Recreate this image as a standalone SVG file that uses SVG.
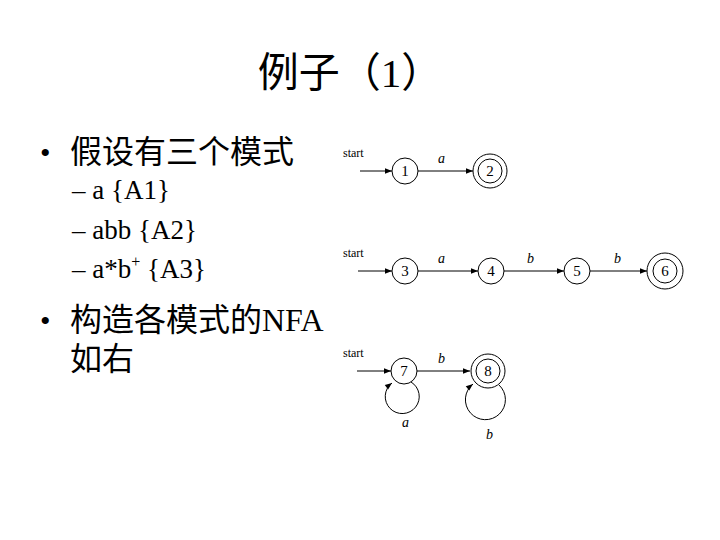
<svg xmlns="http://www.w3.org/2000/svg" width="720" height="540" viewBox="0 0 720 540">
<style>
.t{font-family:"Liberation Serif","Noto Sans CJK SC",serif;fill:#000}
.s{font-family:"Liberation Serif",serif;font-size:12px;fill:#000}
.l{font-family:"Liberation Serif",serif;font-size:14px;font-style:italic;fill:#000}
.n{font-family:"Liberation Serif",serif;font-size:15px;fill:#000;text-anchor:middle}
.c{fill:#fff;stroke:#000;stroke-width:1}
.e{fill:none;stroke:#000;stroke-width:1}
</style>
<defs>
<marker id="ah" viewBox="0 0 10 10" refX="10" refY="5" markerWidth="10" markerHeight="7" markerUnits="userSpaceOnUse" orient="auto"><path d="M0,1 L10,5 L0,9 z" fill="#000"/></marker>
</defs>
<rect width="720" height="540" fill="#fff"/>
<text class="t" x="350" y="87" font-size="41" text-anchor="middle">例子（1）</text>
<text class="t" x="40" y="163" font-size="30">•</text>
<text class="t" x="70" y="163" font-size="32">假设有三个模式</text>
<text class="t" x="72" y="199" font-size="27">– a {A1}</text>
<text class="t" x="72" y="239" font-size="27">– abb {A2}</text>
<text class="t" x="72" y="278" font-size="27">– a*b<tspan font-size="16" dy="-11">+</tspan><tspan dy="11"> {A3}</tspan></text>
<text class="t" x="40" y="331" font-size="30">•</text>
<text class="t" x="70" y="331" font-size="32">构造各模式的NFA</text>
<text class="t" x="70" y="370" font-size="32">如右</text>
<g id="edges">
<line class="e" x1="360" y1="171" x2="392" y2="171" marker-end="url(#ah)"/>
<line class="e" x1="418" y1="171" x2="473" y2="171" marker-end="url(#ah)"/>
<line class="e" x1="358" y1="271" x2="392" y2="271" marker-end="url(#ah)"/>
<line class="e" x1="418" y1="271" x2="478" y2="271" marker-end="url(#ah)"/>
<line class="e" x1="504" y1="271" x2="564" y2="271" marker-end="url(#ah)"/>
<line class="e" x1="590" y1="271" x2="647" y2="271" marker-end="url(#ah)"/>
<line class="e" x1="357" y1="371" x2="391" y2="371" marker-end="url(#ah)"/>
<line class="e" x1="417" y1="371" x2="470" y2="371" marker-end="url(#ah)"/>
<path class="e" d="M411,382 A17,17 0 1 1 392,383" marker-end="url(#ah)"/>
<path class="e" d="M499,385 A20,20 0 1 1 473,384" marker-end="url(#ah)"/>
<text class="l" x="438" y="163">a</text>
<text class="l" x="438" y="263">a</text>
<text class="l" x="527" y="263">b</text>
<text class="l" x="614" y="263">b</text>
<text class="l" x="438" y="363">b</text>
<text class="l" x="402" y="427">a</text>
<text class="l" x="486" y="439">b</text>
</g>
<g id="start1"><text class="s" x="343" y="157">start</text></g>
<g id="start2"><text class="s" x="343" y="257">start</text></g>
<g id="start3"><text class="s" x="343" y="357">start</text></g>
<g id="n1"><circle class="c" cx="405" cy="171" r="13"/><text class="n" x="405" y="176">1</text></g>
<g id="n2"><circle class="c" cx="490" cy="171" r="17"/><circle class="c" cx="490" cy="171" r="12"/><text class="n" x="490" y="176">2</text></g>
<g id="n3"><circle class="c" cx="405" cy="271" r="13"/><text class="n" x="405" y="276">3</text></g>
<g id="n4"><circle class="c" cx="491" cy="271" r="13"/><text class="n" x="491" y="276">4</text></g>
<g id="n5"><circle class="c" cx="577" cy="271" r="13"/><text class="n" x="577" y="276">5</text></g>
<g id="n6"><circle class="c" cx="665" cy="271" r="18"/><circle class="c" cx="665" cy="271" r="12"/><text class="n" x="665" y="276">6</text></g>
<g id="n7"><circle class="c" cx="404" cy="371" r="13"/><text class="n" x="404" y="376">7</text></g>
<g id="n8"><circle class="c" cx="488" cy="371" r="17"/><circle class="c" cx="488" cy="371" r="12"/><text class="n" x="488" y="376">8</text></g>
</svg>
